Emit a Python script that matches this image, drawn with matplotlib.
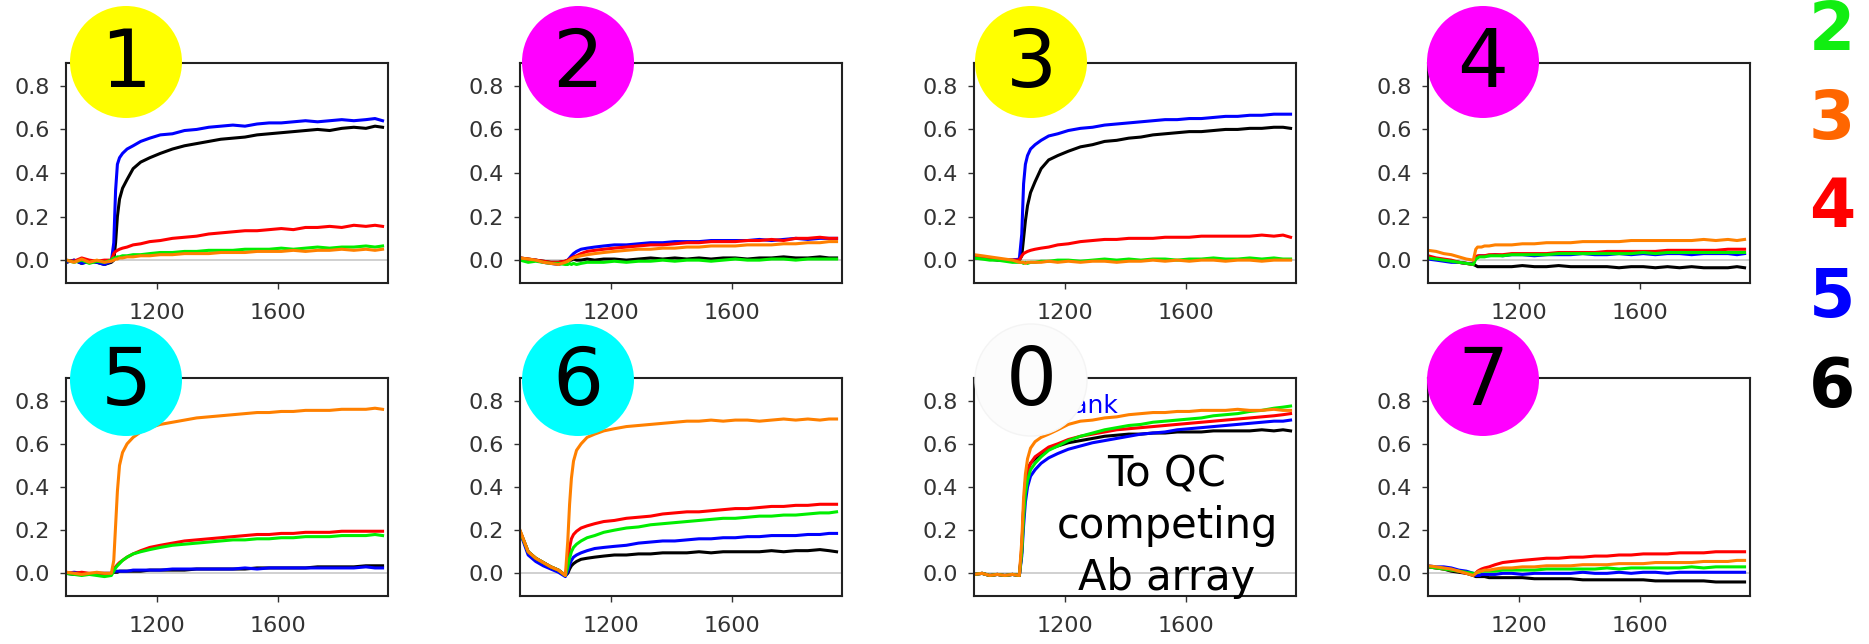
import matplotlib
matplotlib.use("Agg")
import matplotlib.pyplot as plt
from matplotlib.patches import Circle

# ---------------- data ----------------
T = [898, 925, 950, 975, 1000, 1025, 1048, 1056, 1062, 1068, 1075, 1085, 1100, 1120,
     1145, 1175, 1210, 1250, 1290, 1330, 1370, 1410, 1450, 1490, 1530, 1570, 1610,
     1650, 1690, 1730, 1770, 1810, 1850, 1890, 1920, 1945]

series_names = ["black", "blue", "red", "green", "orange"]
series_colors = {"black": "#000000", "blue": "#0000ff", "red": "#ff0000",
                 "green": "#00ee00", "orange": "#ff8000"}

panel_labels = ["1", "2", "3", "4", "5", "6", "0", "7"]
circle_colors = ["#ffff00", "#ff00ff", "#ffff00", "#ff00ff",
                 "#00ffff", "#00ffff", "#fcfcfc", "#ff00ff"]

p1_black = [-0.01, 0.0, -0.015, -0.005, -0.01, -0.02, -0.01, 0.0, 0.08, 0.20, 0.28, 0.33, 0.37, 0.42,
            0.45, 0.47, 0.49, 0.51, 0.525, 0.535, 0.545, 0.555, 0.56, 0.565, 0.575, 0.58, 0.585,
            0.59, 0.595, 0.60, 0.595, 0.605, 0.61, 0.605, 0.615, 0.61]
p1_blue = [-0.01, 0.0, -0.015, -0.005, -0.01, -0.02, -0.005, 0.08, 0.32, 0.44, 0.47, 0.49, 0.51, 0.525,
           0.545, 0.56, 0.575, 0.58, 0.595, 0.60, 0.61, 0.615, 0.62, 0.615, 0.625, 0.63, 0.63,
           0.635, 0.64, 0.635, 0.64, 0.645, 0.64, 0.645, 0.65, 0.64]
p1_red = [0.0, -0.005, 0.01, 0.0, -0.005, 0.0, 0.0, 0.03, 0.04, 0.045, 0.05, 0.055, 0.06, 0.07,
          0.075, 0.085, 0.09, 0.10, 0.105, 0.11, 0.12, 0.125, 0.13, 0.135, 0.135, 0.14, 0.145,
          0.14, 0.15, 0.15, 0.155, 0.15, 0.16, 0.155, 0.16, 0.155]
p1_green = [0.0, -0.01, 0.0, -0.015, -0.005, -0.01, 0.0, 0.01, 0.01, 0.015, 0.015, 0.02, 0.02, 0.025,
            0.025, 0.03, 0.035, 0.035, 0.04, 0.04, 0.045, 0.045, 0.045, 0.05, 0.05, 0.05, 0.055,
            0.05, 0.055, 0.06, 0.055, 0.06, 0.06, 0.065, 0.06, 0.065]
p1_orange = [0.0, -0.01, 0.005, -0.01, 0.0, -0.01, -0.005, 0.0, 0.005, 0.005, 0.01, 0.01, 0.015, 0.015,
             0.02, 0.02, 0.025, 0.025, 0.03, 0.03, 0.03, 0.035, 0.035, 0.035, 0.04, 0.04, 0.04,
             0.045, 0.04, 0.045, 0.045, 0.05, 0.045, 0.05, 0.045, 0.05]

p2_black = [0.01, 0.005, 0.0, -0.005, -0.01, -0.01, -0.005, 0.0, 0.0, 0.0, 0.005, 0.0, 0.0, 0.005,
            0.0, 0.005, 0.005, 0.0, 0.005, 0.01, 0.005, 0.01, 0.005, 0.01, 0.005, 0.01, 0.01,
            0.005, 0.01, 0.01, 0.015, 0.01, 0.01, 0.015, 0.01, 0.01]
p2_blue = [0.01, 0.0, 0.0, -0.01, -0.015, -0.02, -0.01, 0.0, 0.01, 0.02, 0.03, 0.04, 0.05, 0.055,
           0.06, 0.065, 0.07, 0.07, 0.075, 0.08, 0.08, 0.085, 0.085, 0.085, 0.09, 0.09, 0.09,
           0.09, 0.095, 0.09, 0.095, 0.10, 0.095, 0.10, 0.10, 0.10]
p2_red = [0.01, 0.005, 0.0, -0.005, -0.01, -0.01, -0.005, 0.0, 0.005, 0.01, 0.015, 0.02, 0.03, 0.04,
          0.045, 0.05, 0.055, 0.06, 0.065, 0.07, 0.07, 0.075, 0.08, 0.08, 0.085, 0.085, 0.085,
          0.09, 0.09, 0.095, 0.09, 0.10, 0.10, 0.105, 0.10, 0.10]
p2_green = [0.0, -0.01, -0.005, -0.01, -0.015, -0.015, -0.02, -0.02, -0.015, -0.02, -0.015, -0.02, -0.015, -0.01,
            -0.01, -0.01, -0.005, -0.01, -0.005, -0.005, 0.0, -0.005, 0.0, 0.0, -0.005, 0.0, 0.005,
            0.0, 0.0, 0.005, 0.005, 0.0, 0.005, 0.005, 0.005, 0.005]
p2_orange = [0.01, 0.005, 0.0, -0.01, -0.015, -0.02, -0.01, -0.005, 0.0, 0.005, 0.01, 0.015, 0.02, 0.025,
             0.03, 0.035, 0.04, 0.045, 0.05, 0.05, 0.055, 0.055, 0.06, 0.06, 0.065, 0.065, 0.065,
             0.07, 0.07, 0.07, 0.075, 0.075, 0.08, 0.08, 0.085, 0.085]

p3_black = [0.01, 0.01, 0.005, 0.0, 0.0, 0.0, 0.0, 0.02, 0.10, 0.18, 0.25, 0.31, 0.36, 0.42,
            0.46, 0.48, 0.50, 0.52, 0.53, 0.545, 0.55, 0.56, 0.565, 0.575, 0.58, 0.585, 0.59,
            0.59, 0.595, 0.60, 0.60, 0.605, 0.605, 0.61, 0.61, 0.605]
p3_blue = [0.02, 0.015, 0.01, 0.005, 0.0, 0.0, 0.005, 0.12, 0.35, 0.44, 0.48, 0.51, 0.53, 0.55,
           0.57, 0.58, 0.595, 0.605, 0.61, 0.62, 0.625, 0.63, 0.635, 0.64, 0.645, 0.645, 0.65,
           0.65, 0.655, 0.66, 0.66, 0.665, 0.665, 0.67, 0.67, 0.67]
p3_red = [0.02, 0.015, 0.01, 0.005, 0.0, 0.0, 0.0, 0.02, 0.03, 0.035, 0.04, 0.045, 0.05, 0.055,
          0.06, 0.07, 0.075, 0.085, 0.09, 0.095, 0.095, 0.10, 0.10, 0.10, 0.105, 0.105, 0.105,
          0.11, 0.11, 0.11, 0.11, 0.11, 0.115, 0.11, 0.115, 0.105]
p3_green = [0.01, 0.005, 0.0, 0.0, -0.005, -0.01, -0.01, -0.01, -0.015, -0.01, -0.015, -0.01, -0.01, -0.005,
            -0.005, 0.0, 0.0, -0.005, 0.0, 0.005, 0.0, 0.005, 0.0, 0.005, 0.005, 0.0, 0.005,
            0.005, 0.01, 0.005, 0.005, 0.01, 0.005, 0.01, 0.005, 0.005]
p3_orange = [0.025, 0.02, 0.015, 0.01, 0.005, 0.0, -0.01, -0.01, -0.01, -0.015, -0.01, -0.01, -0.01, -0.01,
             -0.005, -0.01, -0.005, -0.01, -0.005, -0.005, -0.01, -0.005, -0.005, 0.0, -0.005, 0.0, -0.005,
             0.0, 0.0, -0.005, 0.0, 0.0, -0.005, 0.0, 0.0, 0.0]

p4_black = [0.01, 0.005, 0.0, -0.005, -0.01, -0.015, -0.02, -0.025, -0.03, -0.03, -0.03, -0.03, -0.03, -0.03,
            -0.03, -0.03, -0.025, -0.03, -0.03, -0.025, -0.03, -0.03, -0.03, -0.03, -0.035, -0.03, -0.03,
            -0.035, -0.03, -0.035, -0.03, -0.035, -0.035, -0.035, -0.03, -0.035]
p4_blue = [0.005, 0.0, -0.005, -0.01, -0.01, -0.015, -0.015, 0.01, 0.015, 0.02, 0.02, 0.02, 0.02, 0.025,
           0.02, 0.025, 0.025, 0.02, 0.025, 0.025, 0.025, 0.03, 0.025, 0.025, 0.03, 0.025, 0.03,
           0.025, 0.03, 0.03, 0.025, 0.03, 0.03, 0.03, 0.025, 0.03]
p4_red = [0.02, 0.01, 0.005, 0.0, -0.01, -0.015, -0.02, 0.015, 0.02, 0.02, 0.02, 0.02, 0.025, 0.025,
          0.025, 0.03, 0.03, 0.03, 0.03, 0.035, 0.035, 0.035, 0.035, 0.04, 0.04, 0.04, 0.04,
          0.04, 0.045, 0.045, 0.045, 0.045, 0.045, 0.05, 0.05, 0.05]
p4_green = [0.01, 0.005, 0.0, -0.005, -0.01, -0.015, -0.02, 0.005, 0.01, 0.015, 0.015, 0.015, 0.02, 0.02,
            0.02, 0.025, 0.025, 0.025, 0.025, 0.03, 0.03, 0.03, 0.03, 0.03, 0.03, 0.03, 0.035,
            0.03, 0.035, 0.035, 0.035, 0.035, 0.035, 0.035, 0.035, 0.035]
p4_orange = [0.045, 0.04, 0.03, 0.025, 0.015, 0.005, 0.0, 0.05, 0.06, 0.06, 0.06, 0.065, 0.065, 0.07,
             0.07, 0.07, 0.075, 0.075, 0.08, 0.08, 0.08, 0.085, 0.085, 0.085, 0.085, 0.09, 0.09,
             0.09, 0.09, 0.09, 0.09, 0.095, 0.09, 0.095, 0.09, 0.095]

p5_black = [0.0, -0.005, 0.0, -0.005, 0.0, -0.005, 0.0, 0.005, 0.005, 0.005, 0.01, 0.01, 0.01, 0.01,
            0.01, 0.015, 0.015, 0.015, 0.015, 0.02, 0.02, 0.02, 0.02, 0.02, 0.025, 0.025, 0.025,
            0.025, 0.025, 0.03, 0.03, 0.03, 0.03, 0.035, 0.035, 0.035]
p5_blue = [0.0, 0.005, 0.0, -0.005, 0.0, 0.0, 0.0, 0.01, 0.01, 0.01, 0.01, 0.01, 0.01, 0.015,
           0.015, 0.015, 0.015, 0.02, 0.02, 0.02, 0.02, 0.02, 0.02, 0.025, 0.02, 0.025, 0.025,
           0.025, 0.025, 0.025, 0.025, 0.025, 0.025, 0.03, 0.025, 0.025]
p5_red = [0.005, 0.0, 0.005, 0.0, 0.0, 0.0, 0.0, 0.02, 0.03, 0.04, 0.05, 0.06, 0.075, 0.09,
          0.105, 0.12, 0.13, 0.14, 0.15, 0.155, 0.16, 0.165, 0.17, 0.175, 0.18, 0.18, 0.185,
          0.185, 0.19, 0.19, 0.19, 0.195, 0.195, 0.195, 0.195, 0.195]
p5_green = [0.0, -0.005, -0.01, -0.005, -0.01, -0.015, -0.01, 0.01, 0.025, 0.035, 0.045, 0.06, 0.075, 0.09,
            0.10, 0.11, 0.12, 0.13, 0.135, 0.14, 0.145, 0.15, 0.155, 0.155, 0.16, 0.16, 0.165,
            0.165, 0.17, 0.17, 0.17, 0.175, 0.175, 0.175, 0.18, 0.175]
p5_orange = [0.005, 0.0, -0.005, 0.0, 0.005, 0.0, 0.0, 0.06, 0.22, 0.38, 0.50, 0.56, 0.60, 0.63,
             0.655, 0.675, 0.69, 0.70, 0.71, 0.72, 0.725, 0.73, 0.735, 0.74, 0.745, 0.745, 0.75,
             0.75, 0.755, 0.755, 0.755, 0.76, 0.76, 0.76, 0.765, 0.76]

p6_black = [0.195, 0.10, 0.07, 0.05, 0.03, 0.015, -0.01, 0.0, 0.02, 0.035, 0.045, 0.055, 0.065, 0.07,
            0.075, 0.08, 0.085, 0.085, 0.09, 0.09, 0.095, 0.095, 0.095, 0.10, 0.095, 0.10, 0.10,
            0.10, 0.10, 0.105, 0.10, 0.105, 0.105, 0.11, 0.105, 0.10]
p6_blue = [0.19, 0.085, 0.055, 0.035, 0.02, 0.005, -0.015, 0.01, 0.04, 0.06, 0.075, 0.085, 0.095, 0.105,
           0.115, 0.12, 0.125, 0.13, 0.14, 0.145, 0.15, 0.15, 0.155, 0.16, 0.16, 0.165, 0.165,
           0.17, 0.17, 0.175, 0.175, 0.175, 0.18, 0.18, 0.185, 0.185]
p6_red = [0.195, 0.10, 0.07, 0.05, 0.03, 0.015, -0.01, 0.05, 0.12, 0.16, 0.18, 0.195, 0.21, 0.22,
          0.23, 0.24, 0.245, 0.255, 0.26, 0.265, 0.275, 0.28, 0.285, 0.285, 0.29, 0.295, 0.30,
          0.30, 0.305, 0.31, 0.31, 0.315, 0.315, 0.32, 0.32, 0.32]
p6_green = [0.195, 0.10, 0.07, 0.05, 0.03, 0.015, -0.01, 0.03, 0.07, 0.10, 0.12, 0.135, 0.15, 0.165,
            0.175, 0.19, 0.20, 0.21, 0.215, 0.225, 0.23, 0.235, 0.24, 0.245, 0.25, 0.255, 0.255,
            0.26, 0.265, 0.265, 0.27, 0.27, 0.275, 0.28, 0.28, 0.285]
p6_orange = [0.20, 0.10, 0.07, 0.05, 0.03, 0.015, -0.01, 0.15, 0.32, 0.44, 0.52, 0.57, 0.60, 0.63,
             0.645, 0.66, 0.67, 0.68, 0.685, 0.69, 0.695, 0.70, 0.705, 0.705, 0.71, 0.705, 0.71,
             0.71, 0.705, 0.71, 0.715, 0.71, 0.715, 0.71, 0.715, 0.715]

p0_black = [-0.005, 0.0, -0.01, -0.005, -0.01, -0.005, -0.01, 0.10, 0.30, 0.42, 0.48, 0.51, 0.53, 0.555,
            0.575, 0.59, 0.605, 0.615, 0.625, 0.635, 0.64, 0.645, 0.645, 0.65, 0.65, 0.655, 0.655,
            0.655, 0.66, 0.66, 0.66, 0.66, 0.665, 0.66, 0.665, 0.66]
p0_blue = [-0.005, 0.0, -0.01, -0.005, -0.01, -0.005, -0.01, 0.08, 0.22, 0.33, 0.40, 0.45, 0.48, 0.51,
           0.535, 0.555, 0.575, 0.59, 0.605, 0.615, 0.625, 0.635, 0.645, 0.65, 0.655, 0.665, 0.67,
           0.675, 0.68, 0.685, 0.69, 0.695, 0.70, 0.705, 0.705, 0.71]
p0_red = [-0.005, 0.0, -0.01, -0.005, -0.01, -0.005, -0.01, 0.12, 0.30, 0.41, 0.47, 0.51, 0.54, 0.56,
          0.585, 0.60, 0.62, 0.635, 0.645, 0.655, 0.665, 0.67, 0.675, 0.68, 0.685, 0.69, 0.695,
          0.70, 0.705, 0.71, 0.715, 0.72, 0.725, 0.73, 0.735, 0.74]
p0_green = [-0.005, 0.0, -0.01, -0.005, -0.01, -0.005, -0.01, 0.10, 0.26, 0.37, 0.43, 0.48, 0.51, 0.54,
            0.57, 0.59, 0.615, 0.635, 0.65, 0.665, 0.675, 0.685, 0.69, 0.70, 0.705, 0.71, 0.715,
            0.72, 0.73, 0.735, 0.74, 0.75, 0.755, 0.765, 0.77, 0.775]
p0_orange = [-0.005, 0.0, -0.01, -0.005, -0.01, -0.005, -0.01, 0.15, 0.35, 0.46, 0.53, 0.58, 0.61, 0.63,
             0.645, 0.665, 0.69, 0.705, 0.71, 0.72, 0.725, 0.735, 0.74, 0.745, 0.745, 0.75, 0.75,
             0.755, 0.755, 0.755, 0.76, 0.755, 0.755, 0.76, 0.755, 0.755]

p7_black = [0.03, 0.025, 0.02, 0.01, 0.005, 0.0, -0.01, -0.015, -0.015, -0.015, -0.015, -0.015, -0.02, -0.02,
            -0.02, -0.02, -0.02, -0.025, -0.025, -0.025, -0.025, -0.03, -0.03, -0.03, -0.03, -0.03, -0.03,
            -0.035, -0.035, -0.035, -0.035, -0.035, -0.04, -0.04, -0.04, -0.04]
p7_blue = [0.035, 0.03, 0.03, 0.025, 0.015, 0.01, 0.0, -0.01, -0.01, -0.01, -0.005, -0.005, -0.005, -0.005,
           0.0, 0.0, -0.005, 0.0, 0.0, 0.0, 0.0, 0.005, 0.0, 0.0, 0.005, 0.0, 0.005,
           0.005, 0.0, 0.005, 0.005, 0.005, 0.005, 0.005, 0.005, 0.005]
p7_red = [0.03, 0.025, 0.02, 0.015, 0.01, 0.0, -0.005, 0.0, 0.01, 0.015, 0.02, 0.025, 0.03, 0.04,
          0.05, 0.055, 0.06, 0.065, 0.07, 0.07, 0.075, 0.075, 0.08, 0.08, 0.085, 0.085, 0.09,
          0.09, 0.09, 0.095, 0.095, 0.095, 0.10, 0.10, 0.10, 0.10]
p7_green = [0.03, 0.025, 0.02, 0.015, 0.01, 0.005, 0.0, 0.0, 0.005, 0.005, 0.01, 0.01, 0.01, 0.01,
            0.015, 0.015, 0.015, 0.015, 0.02, 0.02, 0.02, 0.02, 0.02, 0.025, 0.02, 0.025, 0.025,
            0.025, 0.025, 0.025, 0.03, 0.025, 0.03, 0.03, 0.03, 0.03]
p7_orange = [0.035, 0.03, 0.025, 0.02, 0.01, 0.0, -0.01, 0.0, 0.005, 0.01, 0.01, 0.015, 0.015, 0.02,
             0.025, 0.025, 0.03, 0.03, 0.035, 0.035, 0.035, 0.04, 0.04, 0.04, 0.045, 0.045, 0.045,
             0.05, 0.05, 0.05, 0.05, 0.055, 0.055, 0.055, 0.06, 0.06]

panels = [
    [p1_black, p1_blue, p1_red, p1_green, p1_orange],
    [p2_black, p2_blue, p2_red, p2_green, p2_orange],
    [p3_black, p3_blue, p3_red, p3_green, p3_orange],
    [p4_black, p4_blue, p4_red, p4_green, p4_orange],
    [p5_black, p5_blue, p5_red, p5_green, p5_orange],
    [p6_black, p6_blue, p6_red, p6_green, p6_orange],
    [p0_black, p0_blue, p0_red, p0_green, p0_orange],
    [p7_black, p7_blue, p7_red, p7_green, p7_orange],
]

yticks = [0.0, 0.2, 0.4, 0.6, 0.8]
xticks = [1200, 1600]
legend_labels = ["2", "3", "4", "5", "6"]
legend_colors = ["#11ee11", "#ff6600", "#ff0000", "#0000ff", "#000000"]

# ---------------- layout ----------------
W, H = 1869, 644
fig = plt.figure(figsize=(W / 100, H / 100), dpi=100)
fig.patch.set_facecolor("white")

col_left = [66, 520, 974, 1428]
ax_w = 322
rows = [(63, 283), (378, 596)]
circ_x = [126, 578, 1031, 1483]
circ_y = [62, 380]
R = 56

for i, data in enumerate(panels):
    r, c = divmod(i, 4)
    top, bot = rows[r]
    ax = fig.add_axes([col_left[c] / W, 1 - bot / H, ax_w / W, (bot - top) / H])
    ax.axhline(0, color="#c8c8c8", lw=1.2, zorder=1)
    for name, ys in zip(series_names, data):
        ax.plot(T, ys, color=series_colors[name], lw=2.2, zorder=2)
    ax.set_xlim(898, 1963)
    ax.set_ylim(-0.105, 0.905)
    ax.set_xticks(xticks)
    ax.set_yticks(yticks)
    ax.set_yticklabels([f"{v:.1f}" for v in yticks])
    ax.tick_params(direction="out", length=4.3, width=1, color="#333333",
                   labelsize=16, labelcolor="#333333")
    ax.tick_params(axis="x", pad=10)
    ax.tick_params(axis="y", pad=7)
    for s in ax.spines.values():
        s.set_linewidth(1.5)
        s.set_color("#222222")
    if panel_labels[i] == "0":
        ax.text(1144, 0.745, "Blank", color="#0000ff", fontsize=18, va="baseline", zorder=3)

    cx, cy = circ_x[c], circ_y[r]
    ec = "#f4f4f4" if circle_colors[i] == "#fcfcfc" else "none"
    circ = Circle((cx / 100, (H - cy) / 100), R / 100, transform=fig.dpi_scale_trans,
                  facecolor=circle_colors[i], edgecolor=ec, lw=1, zorder=5)
    fig.add_artist(circ)
    fig.text(cx / W, 1 - (cy + 3) / H, panel_labels[i], fontsize=58, color="black",
             ha="center", va="center", zorder=6)

# text in panel 0
for txt, yb in [("To QC", 487), ("competing", 538), ("Ab array", 590)]:
    fig.text(1167 / W, 1 - yb / H, txt, fontsize=30, color="black",
             ha="center", va="baseline", zorder=6)

# color key on the right
for lab, col, yc in zip(legend_labels, legend_colors, [31, 120, 208, 298, 388]):
    fig.text(1832 / W, 1 - yc / H, lab, fontsize=48, fontweight="bold", color=col,
             ha="center", va="center", zorder=6)

fig.savefig("out.png", dpi=100)
